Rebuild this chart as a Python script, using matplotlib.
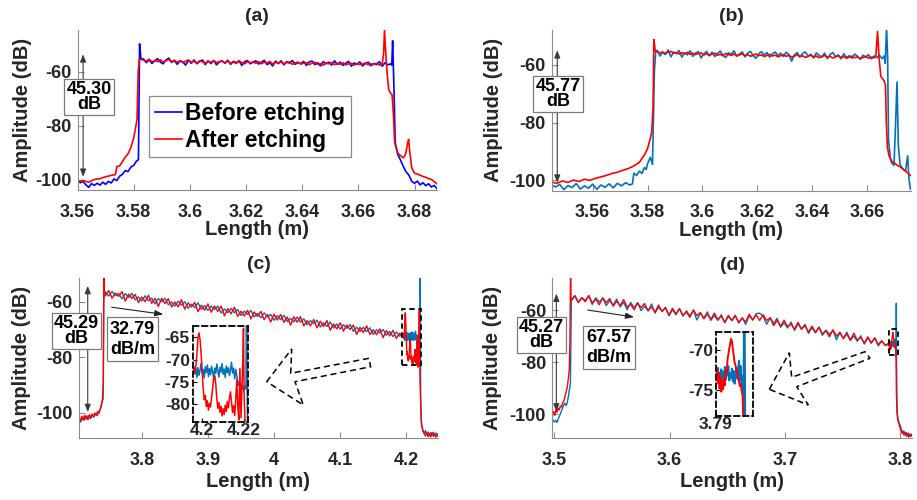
import numpy as np
import matplotlib
matplotlib.use("Agg")
import matplotlib.pyplot as plt
from matplotlib.patches import Polygon, Rectangle
from matplotlib.ticker import FormatStrFormatter

plt.rcParams['font.family'] = ['Liberation Sans', 'DejaVu Sans']
plt.rcParams['font.weight'] = 'bold'
plt.rcParams['axes.labelweight'] = 'bold'

BLUE_A = '#0000FF'
BLUE = '#0072BD'
RED = '#FF0000'
TXT = '#262626'
SPINE = '#8C8C8C'

W, H = 917, 500

# ---------------- (a) OTDR trace, short span ----------------
a_blue_left_x = [3.560, 3.561, 3.562, 3.563, 3.564, 3.565, 3.566, 3.567, 3.568, 3.569, 3.570, 3.571,
                 3.572, 3.573, 3.574, 3.575, 3.576, 3.577, 3.578, 3.579, 3.580, 3.581, 3.5817, 3.5821, 3.5826]
a_blue_left_y = [-100.2, -101.0, -100.6, -101.8, -102.7, -101.3, -102.0, -101.2, -101.9, -100.8, -101.6, -100.5,
                 -101.1, -99.6, -100.2, -98.6, -97.9, -96.5, -96.9, -95.2, -94.6, -93.0, -92.5, -49.6, -55.2]
a_blue_body = [-55.2, -56.6, -55.5, -56.9, -55.9, -55.1, -56.4, -57.0, -55.6, -54.9,
               -56.5, -55.8, -57.2, -55.9, -56.3, -57.5, -55.7, -56.8, -55.6, -57.0,
               -56.1, -55.6, -57.3, -56.0, -56.9, -55.8, -57.4, -56.3, -55.9, -56.8,
               -55.7, -57.2, -56.1, -56.6, -55.9, -57.6, -56.2, -55.8, -57.0, -56.4,
               -55.9, -57.1, -56.4, -55.7, -57.3, -56.6, -57.8, -56.0, -56.9, -55.9,
               -57.4, -56.2, -56.8, -55.8, -57.2, -56.5, -57.0, -56.1, -57.6, -56.3,
               -56.0, -57.3, -56.6, -57.8, -56.2, -57.0, -56.4, -57.5, -55.9, -57.2,
               -56.4, -57.6, -56.8, -56.1, -57.9, -56.7, -57.2, -56.3, -57.8, -56.9,
               -56.4, -57.7, -56.9, -57.3, -56.2, -57.9, -56.6, -57.4, -57.0]
a_blue_right_x = [3.6719, 3.6722, 3.6727, 3.6731, 3.674, 3.675, 3.676, 3.677, 3.678, 3.679,
                  3.680, 3.681, 3.682, 3.683, 3.684, 3.685, 3.686, 3.687, 3.688]
a_blue_right_y = [-57.5, -48.5, -67.0, -86.0, -90.5, -92.6, -95.0, -97.0, -98.2, -100.5,
                  -101.2, -100.4, -101.8, -101.0, -102.1, -101.4, -102.6, -102.0, -103.2]

a_red_left_x = [3.560, 3.562, 3.564, 3.566, 3.568, 3.570, 3.572, 3.5735, 3.574, 3.575, 3.576, 3.577,
                3.578, 3.579, 3.580, 3.5808, 3.5812, 3.5816, 3.5820]
a_red_left_y = [-100.5, -100.2, -100.8, -99.8, -99.5, -98.8, -98.3, -98.0, -95.0, -94.8, -93.2, -91.5,
                -90.3, -88.0, -84.5, -80.0, -77.5, -60.0, -55.3]
a_red_body = [-55.6, -56.0, -55.3, -56.3, -55.8, -56.2, -55.5, -56.4, -55.9, -55.4,
              -56.2, -55.7, -56.5, -55.9, -56.6, -56.0, -55.6, -56.4, -56.1, -56.7,
              -55.9, -56.3, -56.8, -56.0, -56.5, -55.8, -56.6, -56.2, -56.0, -56.7,
              -56.1, -56.8, -56.3, -56.9, -56.0, -56.5, -57.0, -56.2, -56.6, -56.3,
              -56.8, -56.2, -57.0, -56.4, -56.7, -56.1, -57.1, -56.5, -56.8, -56.3,
              -57.0, -56.6, -56.3, -57.2, -56.7, -56.4, -57.1, -56.8, -56.5, -57.3,
              -56.8, -56.4, -57.2, -56.9, -57.5, -56.7, -57.0, -56.5, -57.3, -56.9,
              -57.2, -56.6, -57.4, -57.0, -56.8, -57.5, -56.9, -57.3, -57.1, -56.7,
              -57.4, -57.0, -57.3, -56.8, -57.5, -57.1]
a_red_right_x = [3.6690, 3.6693, 3.6697, 3.6702, 3.6708, 3.6714, 3.6720, 3.6725, 3.6729, 3.674,
                 3.675, 3.676, 3.6768, 3.6775, 3.6779, 3.6783, 3.679, 3.680, 3.681, 3.682,
                 3.683, 3.684, 3.685, 3.686, 3.687, 3.688]
a_red_right_y = [-53.0, -44.6, -52.0, -60.0, -66.5, -67.8, -68.5, -76.0, -86.0, -90.0,
                 -91.0, -91.8, -90.5, -86.5, -85.0, -89.5, -95.5, -97.5, -97.8, -98.2,
                 -98.7, -99.0, -99.5, -99.8, -100.6, -101.4]

# ---------------- (b) ----------------
b_blue_left_x = [3.545, 3.5465, 3.548, 3.5495, 3.551, 3.5525, 3.554, 3.5555, 3.557, 3.5585, 3.560,
                 3.5615, 3.563, 3.5645, 3.566, 3.5675, 3.569, 3.5705, 3.572, 3.5735, 3.5745, 3.5750,
                 3.576, 3.577, 3.578, 3.5788, 3.5795, 3.580, 3.581, 3.5818, 3.5825, 3.5830]
b_blue_left_y = [-101.6, -102.3, -101.4, -103.2, -101.8, -102.5, -101.1, -103.0, -101.9, -102.7, -101.3,
                 -103.1, -101.6, -102.4, -101.2, -102.6, -101.0, -101.9, -100.8, -101.6, -101.2, -97.5,
                 -98.3, -96.8, -97.6, -95.6, -96.2, -94.3, -92.0, -94.5, -62.0, -55.2]
b_blue_body = [-55.0, -57.0, -55.8, -56.5, -54.9, -57.3, -55.6, -56.2, -55.1, -57.4,
               -55.9, -56.6, -55.2, -57.1, -56.0, -55.5, -57.6, -56.3, -55.4, -56.9,
               -55.7, -57.2, -56.1, -55.3, -56.8, -57.5, -55.9, -56.4, -55.2, -57.0,
               -56.3, -55.6, -57.3, -56.0, -55.4, -56.9, -57.8, -56.2, -55.5, -56.7,
               -55.8, -57.4, -56.3, -55.6, -56.9, -56.0, -57.2, -55.7, -56.5, -58.8,
               -56.6, -55.8, -57.3, -56.1, -55.6, -57.0, -56.4, -57.7, -55.9, -56.8,
               -57.3, -56.0, -57.9, -56.5, -55.8, -57.2, -56.6, -58.0, -56.2, -57.5,
               -56.9, -57.8, -56.3, -57.1, -58.1, -56.7, -57.4, -56.5, -58.0, -57.0,
               -57.6, -56.8, -57.9]
b_blue_right_x = [3.6662, 3.6666, 3.6671, 3.6675, 3.6678, 3.6685, 3.669, 3.6698, 3.6704, 3.6709,
                  3.6714, 3.672, 3.673, 3.674, 3.6748, 3.6752, 3.6758]
b_blue_right_y = [-57.0, -59.5, -47.0, -58.0, -86.0, -92.5, -94.0, -94.8, -80.0, -66.0,
                  -88.0, -94.5, -96.0, -96.8, -91.5, -99.0, -103.0]

b_red_left_x = [3.545, 3.547, 3.549, 3.551, 3.553, 3.555, 3.557, 3.559, 3.561, 3.563, 3.565, 3.567,
                3.569, 3.571, 3.573, 3.575, 3.577, 3.579, 3.580, 3.581, 3.5815, 3.5820, 3.5823, 3.5828]
b_red_left_y = [-100.6, -101.0, -100.2, -100.7, -99.9, -100.4, -99.6, -100.0, -99.3, -98.8, -98.3, -97.6,
                -97.2, -96.5, -95.9, -95.0, -93.8, -91.0, -89.0, -85.5, -83.5, -75.0, -51.3, -55.2]
b_red_body = [-55.5, -55.9, -55.6, -56.1, -55.7, -55.4, -56.0, -55.8, -56.3, -55.9,
              -56.2, -55.7, -56.4, -56.0, -56.5, -56.1, -55.9, -56.6, -56.2, -56.8,
              -56.3, -56.0, -56.7, -56.4, -56.9, -56.1, -56.5, -56.8, -56.3, -57.0,
              -56.6, -56.2, -56.9, -56.5, -57.1, -56.7, -56.3, -56.9, -56.6, -57.2,
              -56.8, -56.4, -57.0, -56.7, -57.3, -56.9, -56.5, -57.1, -56.8, -57.4,
              -57.0, -56.6, -57.2, -56.9, -57.5, -57.1, -56.7, -57.3, -57.0, -57.6,
              -57.2, -56.8, -57.4, -57.1, -57.7, -57.3, -56.9, -57.5, -57.2, -57.8,
              -57.4, -57.0, -57.6, -57.3, -57.9, -57.5, -57.1, -57.7, -57.4, -57.6]
b_red_right_x = [3.6632, 3.6638, 3.6644, 3.6650, 3.6656, 3.6662, 3.6667, 3.6670, 3.6674, 3.668,
                 3.669, 3.670, 3.671, 3.672, 3.673, 3.674, 3.675, 3.6758]
b_red_right_y = [-57.0, -48.5, -58.0, -64.0, -64.8, -65.6, -67.0, -80.0, -88.5, -91.5,
                 -93.4, -94.0, -94.8, -95.3, -96.0, -96.8, -97.6, -98.3]

# ---------------- (c) long span, 32.79 dB/m ----------------
c_blue_left_x = [3.705, 3.7075, 3.710, 3.7125, 3.715, 3.7175, 3.720, 3.7225, 3.725, 3.7275,
                 3.730, 3.7325, 3.735, 3.7375, 3.739, 3.7405, 3.7415, 3.7425, 3.7435]
c_blue_left_y = [-102.0, -103.3, -101.5, -102.7, -101.1, -102.4, -100.9, -102.1, -100.6, -101.5,
                 -100.2, -101.0, -99.5, -98.7, -97.0, -95.5, -95.0, -60.0, -56.5]
c_blue_body = [-56.5, -58.0, -56.3, -57.9, -57.0, -59.0, -57.1, -58.5, -57.0, -59.4,
               -58.3, -59.8, -57.9, -59.7, -58.7, -60.8, -58.9, -60.0, -58.8, -61.1,
               -60.1, -61.6, -59.8, -61.3, -60.0, -62.4, -60.9, -62.2, -60.4, -62.8,
               -61.4, -63.2, -61.6, -62.8, -61.6, -64.1, -62.6, -64.0, -62.4, -64.0,
               -62.8, -65.0, -63.4, -64.6, -63.2, -65.5, -64.2, -65.8, -64.0, -65.5,
               -64.6, -66.7, -65.0, -66.5, -64.9, -67.2, -66.0, -67.3, -65.5, -67.4,
               -66.2, -68.3, -66.8, -67.9, -66.7, -69.1, -67.6, -68.9, -67.3, -69.5,
               -68.0, -69.9, -68.3, -69.6, -68.2, -70.7, -69.2, -70.7, -69.2, -70.8,
               -69.4, -71.8, -70.1, -71.3, -70.0, -72.1, -70.7, -72.6, -70.9, -72.4,
               -71.5]
c_blue_zoom = [-71.5, -73.2, -72.0, -74.0, -71.8, -73.5, -72.4, -70.8, -73.0, -72.2,
               -74.1, -71.6, -72.9, -71.2, -73.8, -72.0, -73.4, -71.5, -72.7, -74.2,
               -71.9, -73.1, -71.0, -72.6, -73.9, -71.7, -72.8, -70.9, -73.3, -72.1,
               -74.0, -71.4, -72.9, -71.8, -73.6, -72.3, -70.6, -73.0, -71.9, -74.3,
               -72.2, -73.5, -75.8, -75.0, -76.2, -75.4, -76.5, -75.8, -77.0, -76.0]
c_blue_right_x = [4.2209, 4.2211, 4.2214, 4.2218, 4.2224, 4.223, 4.225, 4.227, 4.229, 4.231,
                  4.233, 4.235, 4.237, 4.239, 4.241, 4.243, 4.245, 4.247, 4.248]
c_blue_right_y = [-76.5, -51.5, -74.0, -95.0, -101.0, -104.5, -106.0, -107.5, -106.3, -107.8,
                  -106.8, -108.2, -107.0, -108.0, -106.9, -107.9, -107.2, -108.1, -107.5]

c_red_left_x = [3.705, 3.707, 3.709, 3.711, 3.713, 3.715, 3.717, 3.719, 3.721, 3.723, 3.725, 3.727,
                3.729, 3.731, 3.733, 3.735, 3.737, 3.739, 3.7405, 3.7418, 3.7425, 3.7432, 3.744]
c_red_left_y = [-101.8, -103.0, -101.2, -102.5, -100.9, -102.1, -101.0, -102.3, -100.6, -101.7, -100.4, -101.4,
                -100.0, -100.8, -99.5, -100.2, -98.6, -97.0, -95.0, -89.0, -51.5, -55.5, -57.0]
c_red_body = [-57.9, -56.0, -58.8, -56.9, -58.1, -56.4, -59.8, -57.3, -58.9, -57.4,
              -60.3, -58.3, -60.0, -57.7, -60.6, -58.8, -61.7, -58.8, -60.7, -58.9,
              -61.9, -60.1, -61.9, -59.3, -62.7, -60.4, -61.9, -60.3, -63.6, -61.3,
              -63.1, -60.8, -63.8, -61.6, -63.5, -61.6, -65.1, -62.5, -64.4, -62.0,
              -65.3, -63.4, -65.2, -63.1, -66.2, -63.7, -65.3, -63.5, -66.5, -64.6,
              -67.3, -64.5, -66.6, -64.6, -67.4, -65.5, -68.4, -65.4, -67.4, -65.4,
              -68.7, -66.8, -68.7, -66.4, -69.4, -67.0, -68.9, -66.8, -70.3, -68.0,
              -69.8, -67.6, -70.6, -68.4, -70.0, -68.4, -71.8, -69.2, -71.1, -68.7,
              -71.8, -70.1, -71.9, -69.8, -72.9, -70.4, -72.3, -70.3, -73.2, -71.3,
              -72.9]
c_red_zoom = [-71.8, -73.0, -71.5, -69.0, -65.0, -64.0, -65.5, -68.5, -72.5, -76.5,
              -79.0, -78.0, -80.5, -79.2, -81.3, -79.8, -80.6, -78.4, -76.0, -74.2,
              -73.6, -75.5, -78.8, -80.9, -79.6, -81.8, -80.4, -82.6, -81.0, -82.3,
              -80.2, -81.6, -79.4, -80.8, -78.7, -77.2, -79.5, -81.8, -80.3, -82.5,
              -79.0, -74.5, -80.5, -83.5, -72.0, -83.0, -76.0]
c_red_right_x = [4.2194, 4.2197, 4.2200, 4.2205, 4.221, 4.222, 4.223, 4.225, 4.227, 4.229,
                 4.231, 4.233, 4.235, 4.237, 4.239, 4.241, 4.243, 4.245, 4.247, 4.248]
c_red_right_y = [-70.0, -63.0, -78.0, -84.5, -90.0, -98.0, -103.5, -106.5, -107.2, -108.3,
                 -107.0, -108.5, -107.4, -108.6, -107.1, -108.4, -107.6, -108.7, -107.8, -108.2]

# ---------------- (d) long span, 67.57 dB/m ----------------
d_blue_left_x = [3.4985, 3.4995, 3.5005, 3.5015, 3.5025, 3.5035, 3.5045, 3.5055, 3.5065, 3.5075,
                 3.5085, 3.5095, 3.5105, 3.5115, 3.5125, 3.5135, 3.5142, 3.5146]
d_blue_left_y = [-101.8, -102.6, -103.0, -102.4, -103.2, -102.0, -101.0, -99.8, -98.6, -97.5,
                 -96.4, -95.8, -96.8, -95.5, -93.0, -90.0, -88.0, -72.0]
d_blue_body = [-56.4, -54.4, -57.2, -55.2, -56.3, -54.6, -57.9, -55.3, -56.9, -55.4,
               -58.3, -56.4, -58.1, -55.8, -58.8, -57.0, -59.9, -57.1, -59.0, -57.2,
               -60.2, -58.5, -60.3, -57.7, -61.2, -58.9, -60.4, -58.9, -62.2, -59.9,
               -61.8, -59.4, -62.4, -60.3, -62.2, -60.2, -63.8, -61.2, -63.1, -60.7,
               -64.0, -62.1, -64.0, -61.8, -64.9, -62.5, -64.0, -62.0, -65.0, -62.9,
               -65.5, -62.2, -63.8, -61.4, -61.2, -62.4, -65.5, -62.9, -65.1, -63.2,
               -66.6, -64.9, -66.9, -64.6, -67.8, -65.4, -67.4, -65.5, -69.0, -66.8,
               -68.8, -66.6, -69.7, -67.7, -69.3, -67.8, -71.4, -68.8, -70.8, -68.5,
               -71.7, -70.0, -72.0, -69.9, -73.1, -70.7, -72.7, -70.7, -73.8, -71.9,
               -73.6]
d_blue_zoom = [-72.6, -73.5, -72.2, -73.9, -72.8, -73.6, -72.4, -74.0, -72.7, -73.4,
               -72.1, -73.7, -72.5, -73.2, -72.0, -73.8, -72.9, -73.5, -72.3, -73.9,
               -72.6, -74.2, -73.0, -72.2, -73.6, -72.4, -71.3, -73.8, -72.0, -74.5,
               -73.2, -78.0]
d_blue_right_x = [3.7964, 3.7966, 3.797, 3.7975, 3.798, 3.799, 3.800, 3.801, 3.802, 3.803,
                  3.804, 3.805, 3.806, 3.807, 3.808, 3.809, 3.810]
d_blue_right_y = [-57.4, -78.5, -96.0, -100.5, -102.0, -103.5, -104.6, -106.2, -107.4, -106.5,
                  -108.0, -107.0, -108.4, -107.3, -108.6, -107.6, -108.2]

d_red_left_x = [3.4985, 3.4995, 3.5005, 3.5015, 3.5025, 3.5035, 3.5045, 3.5055, 3.5065, 3.5075,
                3.5085, 3.5095, 3.5105, 3.5115, 3.5125, 3.5132, 3.5138, 3.5143, 3.5147]
d_red_left_y = [-100.2, -99.0, -100.5, -98.6, -99.3, -97.8, -98.4, -96.9, -97.3, -95.6,
                -95.0, -93.2, -91.5, -89.6, -86.0, -83.0, -72.0, -45.0, -55.0]
d_red_body = [-56.2, -54.6, -57.0, -55.3, -56.8, -54.4, -57.3, -55.8, -58.0, -55.3,
              -57.2, -55.6, -58.5, -56.6, -58.3, -56.0, -58.9, -57.8, -59.9, -57.3,
              -59.1, -57.5, -60.3, -58.8, -60.8, -58.1, -60.6, -59.2, -62.0, -59.3,
              -61.5, -59.5, -62.0, -60.8, -62.8, -59.9, -62.2, -60.9, -63.4, -61.5,
              -63.6, -61.2, -63.6, -62.4, -64.7, -62.0, -64.1, -62.2, -64.8, -63.1,
              -64.6, -61.6, -63.8, -61.9, -64.0, -61.8, -64.0, -63.0, -66.0, -64.0,
              -66.2, -63.9, -66.4, -65.4, -67.4, -64.7, -67.3, -66.0, -68.5, -66.2,
              -68.6, -66.6, -69.2, -68.0, -70.3, -67.6, -70.0, -68.5, -71.0, -69.2,
              -71.6, -68.9, -71.6, -70.5, -72.7, -70.3, -72.7, -70.7, -73.3, -71.8,
              -73.6]
d_red_zoom = [-73.2, -72.4, -74.1, -72.9, -74.8, -73.4, -75.2, -73.8, -74.9, -73.5,
              -74.4, -72.6, -72.9, -71.2, -70.5, -69.8, -69.2, -68.6, -68.9, -69.8,
              -70.6, -71.5, -71.9, -72.4, -72.8, -73.4, -73.9, -74.5, -74.2, -75.1,
              -75.6, -78.5]
d_red_right_x = [3.7965, 3.797, 3.7975, 3.798, 3.799, 3.800, 3.801, 3.802, 3.803, 3.804,
                 3.805, 3.806, 3.807, 3.808, 3.809, 3.810]
d_red_right_y = [-92.0, -99.5, -101.5, -102.8, -104.2, -105.8, -107.2, -106.5, -108.0, -107.1,
                 -108.5, -107.4, -108.8, -107.8, -108.6, -108.0]

# sampling of the evenly spaced parts: (start, step)
a_body_grid = (3.5835, 0.001)
b_body_grid = (3.5835, 0.001)
c_body_grid = (3.745, 0.005)
c_zoom_grid = (4.196, 0.0005)
d_body_grid = (3.515, 0.00302)
d_zoom_grid = (3.790, 0.0002)

legend_labels = ['Before etching', 'After etching']


def grid(start_step, vals):
    start, step = start_step
    return start + step * np.arange(len(vals))


def assemble(*parts):
    xs = np.concatenate([np.asarray(p[0], float) for p in parts])
    ys = np.concatenate([np.asarray(p[1], float) for p in parts])
    return xs, ys


def px_to_fig(px, py):
    return px / W, 1 - py / H


def style_axes(ax, xlim, ylim, xticks, yticks, title, xlab_y, ylab_x):
    ax.set_xlim(*xlim)
    ax.set_ylim(*ylim)
    ax.set_xticks(xticks)
    ax.set_yticks(yticks)
    ax.xaxis.set_major_formatter(FormatStrFormatter('%g'))
    ax.yaxis.set_major_formatter(FormatStrFormatter('%g'))
    for s in ['top', 'right']:
        ax.spines[s].set_visible(False)
    for s in ['left', 'bottom']:
        ax.spines[s].set_color(SPINE)
        ax.spines[s].set_linewidth(0.8)
    ax.tick_params(direction='in', length=4, width=0.8, color=SPINE,
                   labelcolor=TXT, labelsize=13)
    ax.tick_params(axis='x', pad=10)
    ax.tick_params(axis='y', pad=4.5)
    ax.set_xlabel('Length (m)', fontsize=14.5, color=TXT, va='center', fontweight='bold')
    ax.set_ylabel('Amplitude (dB)', fontsize=14.5, color=TXT, va='center', fontweight='bold')
    ax.xaxis.set_label_coords(0.5, xlab_y)
    ax.yaxis.set_label_coords(ylab_x, 0.5)
    ax.text(0.5, 1.083, title, transform=ax.transAxes, ha='center', va='center',
            fontsize=14, color=TXT, fontweight='bold')


def span_arrow(ax, x, y_mid, span, box_xy, text):
    ax.annotate('', xy=(x, y_mid - span / 2), xytext=(x, y_mid + span / 2),
                arrowprops=dict(arrowstyle='<|-|>,head_length=0.45,head_width=0.18',
                                color='#3a3a3a', lw=0.8, shrinkA=0, shrinkB=0),
                annotation_clip=False, zorder=4)
    ax.text(box_xy[0], box_xy[1], text, ha='center', va='center', fontsize=13,
            color='black', linespacing=0.85, zorder=6, clip_on=False,
            bbox=dict(boxstyle='square,pad=0.12', fc='white', ec='#7a7a7a', lw=0.9))


def slope_arrow(ax, x0, y0, x1, slope, box_xy, text):
    y1 = y0 - slope * (x1 - x0)
    ax.annotate('', xy=(x1, y1), xytext=(x0, y0),
                arrowprops=dict(arrowstyle='-|>,head_length=0.5,head_width=0.18',
                                color='#222222', lw=0.8, shrinkA=0, shrinkB=0),
                zorder=4)
    ax.text(box_xy[0], box_xy[1], text, ha='center', va='center', fontsize=13,
            color='black', linespacing=1.25, zorder=6,
            bbox=dict(boxstyle='square,pad=0.18', fc='white', ec='#7a7a7a', lw=0.9))


def hollow_arrow(fig, pts):
    verts = [px_to_fig(px, py) for px, py in pts]
    poly = Polygon(verts, closed=True, fill=False, ec='black', lw=1.1,
                   ls=(0, (4, 2.5)), transform=fig.transFigure)
    fig.add_artist(poly)


def zoom_axes(fig, rect_px, xlim, ylim, xticks, xticklabels, yticks):
    l, t, r, b = rect_px
    x0, y0 = px_to_fig(l, b)
    iax = fig.add_axes([x0, y0, (r - l) / W, (b - t) / H])
    iax.set_facecolor('white')
    iax.set_xlim(*xlim)
    iax.set_ylim(*ylim)
    iax.set_xticks(xticks)
    iax.set_xticklabels(xticklabels)
    iax.set_yticks(yticks)
    iax.yaxis.set_major_formatter(FormatStrFormatter('%g'))
    for s in iax.spines.values():
        s.set_linestyle((0, (3, 2)))
        s.set_linewidth(1.3)
        s.set_color('black')
    iax.tick_params(direction='in', length=3, width=0.8, color='black',
                    labelcolor=TXT, labelsize=12.5)
    iax.tick_params(axis='x', pad=1)
    iax.tick_params(axis='y', pad=2)
    return iax


def zoom_box(ax, xlim, ylim):
    ax.add_patch(Rectangle((xlim[0], ylim[0]), xlim[1] - xlim[0], ylim[1] - ylim[0],
                           fill=False, ec='black', lw=1.3, ls=(0, (3, 2)), zorder=5))


fig = plt.figure(figsize=(W / 100, H / 100), dpi=100)

# ---- (a)
ax_a = fig.add_axes([77.5 / W, 1 - 190 / H, 359.5 / W, 160 / H])
xa_b, ya_b = assemble((a_blue_left_x, a_blue_left_y),
                      (grid(a_body_grid, a_blue_body), a_blue_body),
                      (a_blue_right_x, a_blue_right_y))
xa_r, ya_r = assemble((a_red_left_x, a_red_left_y),
                      (grid(a_body_grid, a_red_body), a_red_body),
                      (a_red_right_x, a_red_right_y))
l1, = ax_a.plot(xa_b, ya_b, color=BLUE_A, lw=1.2, label=legend_labels[0])
l2, = ax_a.plot(xa_r, ya_r, color=RED, lw=1.2, label=legend_labels[1])
style_axes(ax_a, (3.56, 3.688), (-103.7, -44.5),
           [3.56, 3.58, 3.6, 3.62, 3.64, 3.66, 3.68], [-100, -80, -60],
           '(a)', -0.244, -0.153)
leg = ax_a.legend(handles=[l1, l2], loc='upper left', bbox_to_anchor=(0.199, 0.585),
                  borderaxespad=0, fancybox=False, edgecolor='#8a8a8a', framealpha=1,
                  prop=dict(size=16.5, weight='bold'), handlelength=1.2,
                  handletextpad=0.12, labelspacing=0.15, borderpad=0.25)
leg.get_frame().set_linewidth(0.9)
span_arrow(ax_a, 3.562, -76.15, 45.30, (3.5641, -69.3), '45.30\ndB')

# ---- (b)
ax_b = fig.add_axes([551.5 / W, 1 - 190.5 / H, 359.5 / W, 160.5 / H])
xb_b, yb_b = assemble((b_blue_left_x, b_blue_left_y),
                      (grid(b_body_grid, b_blue_body), b_blue_body),
                      (b_blue_right_x, b_blue_right_y))
xb_r, yb_r = assemble((b_red_left_x, b_red_left_y),
                      (grid(b_body_grid, b_red_body), b_red_body),
                      (b_red_right_x, b_red_right_y))
ax_b.plot(xb_b, yb_b, color=BLUE, lw=1.2)
ax_b.plot(xb_r, yb_r, color=RED, lw=1.2)
style_axes(ax_b, (3.545, 3.676), (-103.5, -48.0),
           [3.56, 3.58, 3.6, 3.62, 3.64, 3.66], [-100, -80, -60],
           '(b)', -0.251, -0.162)
span_arrow(ax_b, 3.5471, -77.9, 45.77, (3.5474, -70.1), '45.77\ndB')

# ---- (c)
ax_c = fig.add_axes([79 / W, 1 - 438 / H, 359 / W, 160 / H])
xc_b, yc_b = assemble((c_blue_left_x, c_blue_left_y),
                      (grid(c_body_grid, c_blue_body), c_blue_body),
                      (grid(c_zoom_grid, c_blue_zoom), c_blue_zoom),
                      (c_blue_right_x, c_blue_right_y))
xc_r, yc_r = assemble((c_red_left_x, c_red_left_y),
                      (grid(c_body_grid, c_red_body), c_red_body),
                      (grid(c_zoom_grid, c_red_zoom), c_red_zoom),
                      (c_red_right_x, c_red_right_y))
ax_c.plot(xc_b, yc_b, color=BLUE, lw=1.0)
ax_c.plot(xc_r, yc_r, color=RED, lw=1.0)
style_axes(ax_c, (3.705, 4.248), (-109.0, -51.5),
           [3.8, 3.9, 4.0, 4.1, 4.2], [-100, -80, -60],
           '(c)', -0.273, -0.159)
span_arrow(ax_c, 3.7182, -77.0, 45.29, (3.7015, -70.6), '45.29\ndB')
slope_arrow(ax_c, 3.7544, -62.0, 3.8325, 32.79, (3.7859, -73.5), '32.79\ndB/m')
c_zoom_x = (4.1955, 4.222)
c_zoom_y = (-83.9, -62.4)
zoom_box(ax_c, (4.1935, 4.2228), (-82.6, -62.6))
iax_c = zoom_axes(fig, (192.7, 325.7, 248.3, 421.7), c_zoom_x, c_zoom_y,
                  [4.2, 4.22], ['4.2', '4.22'], [-80, -75, -70, -65])
iax_c.plot(xc_b, yc_b, color=BLUE, lw=1.1)
iax_c.plot(xc_r, yc_r, color=RED, lw=1.1)
hollow_arrow(fig, [(266.7, 381.7), (291.7, 349.0), (290.7, 373.3), (369.0, 358.3),
                   (370.7, 366.7), (295.0, 381.7), (303.3, 405.0)])

# ---- (d)
ax_d = fig.add_axes([552.3 / W, 1 - 438.3 / H, 359.7 / W, 160 / H])
xd_b, yd_b = assemble((d_blue_left_x, d_blue_left_y),
                      (grid(d_body_grid, d_blue_body), d_blue_body),
                      (grid(d_zoom_grid, d_blue_zoom), d_blue_zoom),
                      (d_blue_right_x, d_blue_right_y))
xd_r, yd_r = assemble((d_red_left_x, d_red_left_y),
                      (grid(d_body_grid, d_red_body), d_red_body),
                      (grid(d_zoom_grid, d_red_zoom), d_red_zoom),
                      (d_red_right_x, d_red_right_y))
ax_d.plot(xd_b, yd_b, color=BLUE, lw=1.0)
ax_d.plot(xd_r, yd_r, color=RED, lw=1.0)
style_axes(ax_d, (3.4985, 3.81), (-109.3, -47.8),
           [3.5, 3.6, 3.7, 3.8], [-100, -80, -60],
           '(d)', -0.273, -0.165)
span_arrow(ax_d, 3.502, -76.35, 45.27, (3.489, -69.6), '45.27\ndB')
slope_arrow(ax_d, 3.5292, -60.0, 3.5693, 67.57, (3.5478, -74.4), '67.57\ndB/m')
d_zoom_x = (3.790, 3.7983)
d_zoom_y = (-78.2, -67.7)
zoom_box(ax_d, (3.7900, 3.7983), (-77.4, -67.4))
iax_d = zoom_axes(fig, (716.0, 331.7, 752.7, 415.7), d_zoom_x, d_zoom_y,
                  [3.79], ['3.79'], [-75, -70])
iax_d.plot(xd_b, yd_b, color=BLUE, lw=1.4)
iax_d.plot(xd_r, yd_r, color=RED, lw=1.4)
hollow_arrow(fig, [(769.3, 389.3), (789.3, 352.7), (791.7, 377.3), (865.0, 351.7),
                   (870.0, 358.3), (796.7, 386.7), (808.3, 405.0)])

fig.savefig('out.png', dpi=100)
